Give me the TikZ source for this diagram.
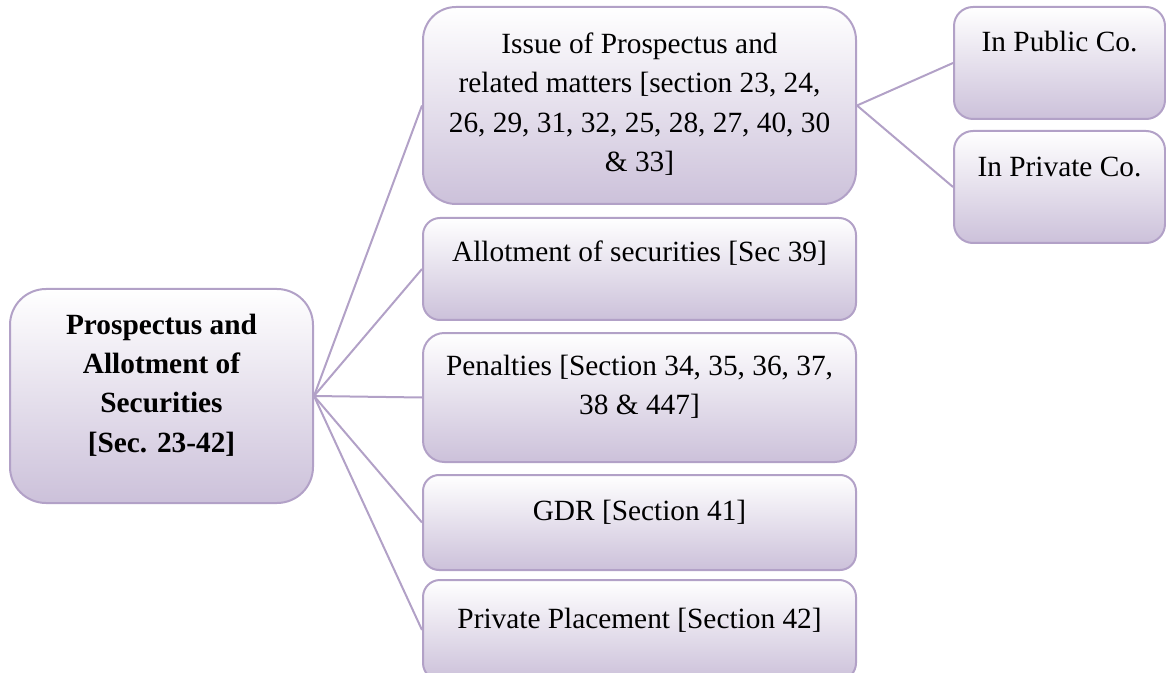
\documentclass[tikz,border=0pt]{standalone}
\usepackage{fontspec}
\setmainfont{Liberation Serif}
\usetikzlibrary{fit}

\definecolor{lilacline}{HTML}{B2A1C7}
\definecolor{lilacfill}{HTML}{CCC1DA}

\tikzset{
  card/.style={draw=lilacline, line width=1.5pt, top color=white,
    bottom color=lilacfill, inner sep=0pt},
  cardtext/.style={align=center, inner sep=0pt, text=black,
    font=\fontsize{22}{29.6}\selectfont},
  link/.style={draw=lilacline, line width=1.5pt},
}

\begin{document}
\begin{tikzpicture}[x=0.75pt,y=-0.75pt]
\clip (0,0) rectangle (1166,673);

% boxes
\node (root)  [card, rounded corners=27pt,    fit={(10,289) (313,503)}] {};
\node (issue) [card, rounded corners=24.75pt, fit={(423,7) (856,204)}] {};
\node (allot) [card, rounded corners=12.75pt, fit={(423,218) (856,320)}] {};
\node (penal) [card, rounded corners=16pt,    fit={(423,333) (856,462)}] {};
\node (gdr)   [card, rounded corners=12pt,    fit={(423,475) (856,570)}] {};
\node (place) [card, rounded corners=12.75pt, fit={(423,580) (856,680)}] {};
\node (pub)   [card, rounded corners=14.25pt, fit={(954,7) (1165,119)}] {};
\node (pvt)   [card, rounded corners=14.25pt, fit={(954,131) (1165,243)}] {};

% texts
\node (rootT) [cardtext, font=\fontsize{22}{29.6}\selectfont\bfseries] at (161.5,385)
  {Prospectus and\\Allotment of\\Securities\\{[Sec. 23-42]}};
\node (issueT) [cardtext] at (639.5,104)
  {Issue of Prospectus and\\related matters [section 23, 24,\\26, 29, 31, 32, 25, 28, 27, 40, 30\\\& 33]};
\node (allotT) [cardtext] at (639.5,253) {Allotment of securities [Sec 39]};
\node (penalT) [cardtext] at (639.5,387) {Penalties [Section 34, 35, 36, 37,\\38 \& 447]};
\node (gdrT)   [cardtext] at (639.5,512) {GDR [Section 41]};
\node (placeT) [cardtext] at (639.5,620) {Private Placement [Section 42]};
\node (pubT)   [cardtext] at (1059.5,42) {In Public Co.};
\node (pvtT)   [cardtext] at (1059.5,167) {In Private Co.};

% connectors
\foreach \child in {issue,allot,penal,gdr,place}
  \draw[link] (root.east) -- (\child.west);
\draw[link] (issue.east) -- (pub.west);
\draw[link] (issue.east) -- (pvt.west);
\end{tikzpicture}
\end{document}
